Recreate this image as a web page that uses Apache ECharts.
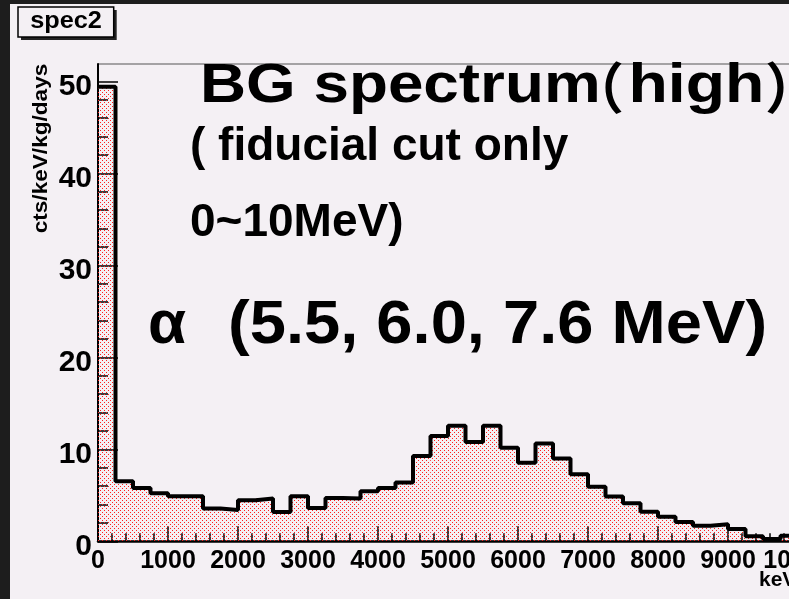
<!DOCTYPE html>
<html>
<head>
<meta charset="utf-8">
<script src="https://cdn.jsdelivr.net/npm/echarts@6/dist/echarts.min.js"></script>
<style>
  html, body { margin: 0; padding: 0; width: 789px; height: 599px; overflow: hidden; background: #1d1d1d; }
  #chart { position: absolute; left: 10px; top: 4px; width: 779px; height: 595px; background: #f4f0f4; }
</style>
</head>
<body>
<div id="chart"></div>
<script>
// Histogram "spec2": 40 bins of 250 keV from 0 to 10000 keV
const binWidth = 250;
const binStarts = [
  0, 250, 500, 750, 1000, 1250, 1500, 1750, 2000, 2250,
  2500, 2750, 3000, 3250, 3500, 3750, 4000, 4250, 4500, 4750,
  5000, 5250, 5500, 5750, 6000, 6250, 6500, 6750, 7000, 7250,
  7500, 7750, 8000, 8250, 8500, 8750, 9000, 9250, 9500, 9750
];
// cts/keV/kg/days per bin
const rates = [
  49.4, 6.54, 5.78, 5.22, 4.89, 4.89, 3.57, 3.41, 4.46, 4.64,
  3.19, 4.89, 3.62, 4.71, 4.64, 5.43, 5.80, 6.38, 9.28, 11.45,
  12.57, 10.80, 12.57, 10.18, 8.55, 10.62, 8.99, 7.28, 5.94, 4.86,
  4.13, 3.22, 2.68, 2.10, 1.70, 1.85, 1.34, 0.55, 0.25, 0.60
];
const xMin = 0, xMax = 10000, xStep = 1000;
const yMin = 0, yMax = 51.88;
const yMajorTicks = [0, 10, 20, 30, 40, 50];
const yMinorTicks = [2, 4, 6, 8, 12, 14, 16, 18, 22, 24, 26, 28, 32, 34, 36, 38, 42, 44, 46, 48];

const titleParts = ['BG spectrum', '\uFF08', 'high', '\uFF09'];
const noteLines = ['( fiducial cut only', '0~10MeV)'];
const alphaParts = ['\u03B1', '(5.5, 6.0, 7.6 MeV)'];
const histName = 'spec2';
const yTitle = 'cts/keV/kg/days';
const xTitle = 'keV';

const FONT = "'Liberation Sans', Arial, 'Noto Sans CJK JP', sans-serif";
const CJK = "'Noto Sans CJK JP', 'Liberation Sans', sans-serif";
const PANEL = '#f4f0f4';

// red dotted fill pattern
const tile = document.createElement('canvas');
tile.width = 4; tile.height = 4;
const tctx = tile.getContext('2d');
tctx.fillStyle = '#ff2020';
tctx.fillRect(0, 0, 1, 1);
tctx.fillRect(2, 2, 1, 1);
const dotPattern = { image: tile, repeat: 'repeat' };

const binData = binStarts.map((x, i) => [x, x + binWidth, rates[i]]);
const outline = binStarts.map((x, i) => [x, rates[i]]);
outline.push([xMax, rates[rates.length - 1]]);

const chart = echarts.init(document.getElementById('chart'), null, { renderer: 'canvas' });

const tickLabelStyle = { color: '#000', fontFamily: FONT, fontWeight: 'bold' };

function label(text, x, y, size, opts) {
  opts = opts || {};
  return {
    type: 'text', x: x, y: y, z: 12,
    scaleX: opts.scaleX || 1, scaleY: opts.scaleY || 1, rotation: opts.rotation || 0,
    style: {
      text: text, font: 'bold ' + size + 'px ' + (opts.family || FONT), fill: '#000',
      align: opts.align || 'left', verticalAlign: 'middle'
    }
  };
}

chart.setOption({
  animation: false,
  backgroundColor: PANEL,
  grid: {
    left: 88, top: 60, width: 700, height: 477.3,
    containLabel: false, outerBoundsMode: 'none',
    show: true, borderColor: '#555', borderWidth: 1, backgroundColor: 'transparent'
  },
  xAxis: {
    type: 'value', min: xMin, max: xMax, interval: xStep,
    axisLine: { show: true, onZero: false, lineStyle: { color: '#000', width: 2.5 } },
    axisTick: { show: true, inside: true, length: 15, lineStyle: { color: '#000', width: 1.5 } },
    minorTick: { show: true, splitNumber: 5, length: 8, lineStyle: { color: '#000', width: 1.5 } },
    splitLine: { show: false },
    axisLabel: Object.assign({
      fontSize: 25, margin: 7, showMinLabel: true, showMaxLabel: true, hideOverlap: false,
      formatter: v => String(v)
    }, tickLabelStyle)
  },
  yAxis: [
    {
      type: 'value', min: yMin, max: yMax, position: 'left',
      axisLine: { show: true, lineStyle: { color: '#000', width: 2 } },
      axisTick: { show: true, inside: true, length: 20, customValues: yMajorTicks, lineStyle: { color: '#000', width: 1.5 } },
      axisLabel: {
        margin: 6, customValues: yMajorTicks,
        formatter: v => '{t|' + v + '}',
        rich: { t: Object.assign({ fontSize: 30, padding: [11, 0, 0, 0] }, tickLabelStyle) }
      },
      splitLine: { show: false }
    },
    {
      type: 'value', min: yMin, max: yMax, position: 'left',
      axisLine: { show: false },
      axisTick: { show: true, inside: true, length: 10, customValues: yMinorTicks, lineStyle: { color: '#000', width: 1.5 } },
      axisLabel: { show: false },
      splitLine: { show: false }
    }
  ],
  series: [
    {
      type: 'custom',
      data: binData,
      clip: true,
      z: 1,
      renderItem: function (params, api) {
        const top = api.coord([api.value(0), api.value(2)]);
        const bot = api.coord([api.value(1), 0]);
        return {
          type: 'rect',
          shape: { x: top[0], y: top[1], width: bot[0] - top[0], height: bot[1] - top[1] },
          style: { fill: dotPattern }
        };
      }
    },
    {
      type: 'line',
      data: outline,
      step: 'end',
      symbol: 'none',
      clip: true,
      z: 3,
      lineStyle: { color: '#000', width: 4 }
    }
  ],
  graphic: [
    // histogram name box with shadow
    { type: 'rect', shape: { x: 11, y: 6, width: 95.7, height: 30 }, style: { fill: '#222' }, z: 10 },
    { type: 'rect', shape: { x: 8, y: 3, width: 95.7, height: 30 }, style: { fill: PANEL, stroke: '#000', lineWidth: 1.5 }, z: 11 },
    label(histName, 56, 18, 23, { align: 'center', scaleX: 1.1 }),
    // axis titles
    label(yTitle, 31, 144.5, 20, { align: 'center', rotation: Math.PI / 2, scaleX: 1.13 }),
    label(xTitle, 749, 576, 21),
    // annotations
    label(titleParts[0], 190, 83, 55, { scaleX: 1.16 }),
    label(titleParts[1], 559, 83, 55, { family: CJK }),
    label(titleParts[2], 618.5, 83, 55, { scaleX: 1.17 }),
    label(titleParts[3], 755, 83, 55, { family: CJK }),
    label(noteLines[0], 180, 143, 46),
    label(noteLines[1], 180, 219, 46),
    label(alphaParts[0], 138, 322, 62),
    label(alphaParts[1], 218, 322, 62, { scaleX: 1.05 })
  ]
});
</script>
</body>
</html>
